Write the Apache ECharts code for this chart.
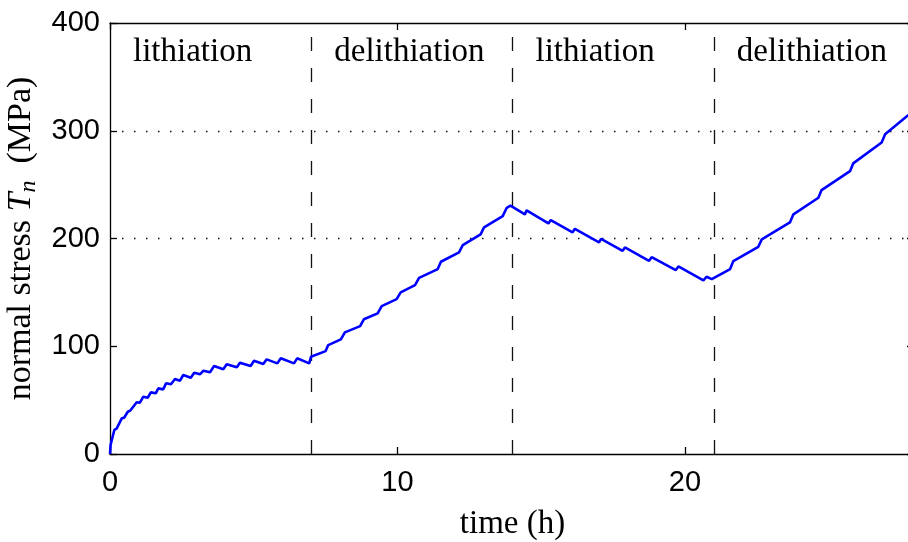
<!DOCTYPE html>
<html>
<head>
<meta charset="utf-8">
<script src="https://cdn.jsdelivr.net/npm/echarts@6/dist/echarts.min.js"></script>
<style>
  html, body { margin: 0; padding: 0; background: #fff; }
  #main { width: 908px; height: 542px; }
</style>
</head>
<body>
<div id="main"></div>
<script>
// time (h) and normal stress (MPa)
const timeH = [
  0, 0.02, 0.15, 0.23, 0.41, 0.49, 0.62, 0.70, 0.93, 1.04, 1.16, 1.31, 1.42, 1.59, 1.68, 1.85,
  1.95, 2.12, 2.26, 2.43, 2.55, 2.81, 2.93, 3.13, 3.25, 3.48, 3.62, 3.94, 4.06, 4.41, 4.52, 4.89,
  5.01, 5.33, 5.45, 5.82, 5.94, 6.40, 6.51, 6.93,
  6.99, 7.50, 7.59, 8.03, 8.17, 8.70, 8.83, 9.31, 9.45, 9.97, 10.11, 10.61, 10.75, 11.40, 11.51,
  12.14, 12.27, 12.89, 13.01, 13.66, 13.80, 13.93,
  14.43, 14.49, 15.25, 15.33, 16.09, 16.17, 17.01, 17.08, 17.83, 17.91, 18.75, 18.84, 19.68,
  19.77, 20.64, 20.75, 20.93,
  21.57, 21.68, 22.55, 22.67, 23.65, 23.77, 24.64, 24.75, 25.74, 25.85, 26.84, 26.96, 27.77
];
const stressMPa = [
  0, 8.3, 22.3, 23.5, 33.1, 33.7, 39.2, 40.2, 48.0, 47.6, 53.2, 52.2, 57.2, 56.3, 60.9, 60.0,
  65.6, 64.7, 69.6, 68.0, 73.3, 70.8, 75.4, 73.9, 77.3, 75.8, 81.6, 78.6, 83.2, 80.4, 84.7, 81.6,
  86.5, 83.5, 87.8, 84.1, 88.8, 84.1, 88.8, 84.1,
  90.3, 95.5, 101.1, 106.4, 112.9, 118.7, 125.0, 130.5, 137.3, 143.8, 150.0, 156.8, 163.5, 171.6, 178.4,
  187.1, 193.9, 203.8, 210.3, 220.8, 228.5, 230.5,
  222.4, 226.1, 214.0, 217.1, 205.7, 209.0, 196.4, 199.7, 188.6, 191.7, 179.3, 182.7, 170.7,
  174.1, 161.1, 164.5, 162.3,
  171.6, 179.0, 192.3, 199.2, 214.9, 222.4, 237.8, 244.9, 262.5, 269.7, 289.1, 296.8, 314.5
];

// phases
const phaseNames = ['lithiation', 'delithiation', 'lithiation', 'delithiation'];
const phaseStarts = [0, 7, 14, 21];
const phaseBounds = [7, 14, 21];
const dottedLevels = [200, 300];

const serif = '"Liberation Serif", "DejaVu Serif", serif';
const sans = '"Liberation Sans", Arial, sans-serif';

let myChart = echarts.init(document.getElementById('main'));

const lineData = timeH.map((t, i) => [t, stressMPa[i]]);
const labelData = phaseStarts.map((s, i) => ({ value: [s + 0.8, 373], name: phaseNames[i] }));

let option = {
  animation: false,
  backgroundColor: '#fff',
  grid: { left: 110, right: -7, top: 23, bottom: 88, outerBoundsMode: 'none', containLabel: false },
  xAxis: [
    {
      type: 'value', min: 0, max: 28, interval: 10, position: 'bottom',
      name: 'time (h)', nameLocation: 'middle', nameGap: 54,
      nameTextStyle: { fontFamily: serif, fontSize: 33, color: '#000' },
      axisLine: { show: true, onZero: false, lineStyle: { color: '#000', width: 1.3 } },
      axisTick: { inside: true, length: 7, lineStyle: { color: '#000', width: 1.3 } },
      axisLabel: { fontFamily: sans, fontSize: 29, color: '#000', margin: 14, showMaxLabel: false },
      splitLine: { show: false }
    },
    {
      type: 'value', min: 0, max: 28, interval: 10, position: 'top',
      axisLine: { show: true, onZero: false, lineStyle: { color: '#000', width: 1.3 } },
      axisTick: { inside: true, length: 7, lineStyle: { color: '#000', width: 1.3 } },
      axisLabel: { show: false },
      splitLine: { show: false }
    }
  ],
  yAxis: [
    {
      type: 'value', min: 0, max: 400, interval: 100, position: 'left',
      name: '{a|normal stress }{i|T}{s|n}{a|  (MPa)}',
      nameLocation: 'middle', nameGap: 62, nameRotate: 90,
      nameTextStyle: {
        color: '#000',
        rich: {
          a: { fontFamily: serif, fontSize: 34, color: '#000' },
          i: { fontFamily: serif, fontSize: 34, fontStyle: 'italic', color: '#000' },
          s: { fontFamily: serif, fontSize: 24, fontStyle: 'italic', color: '#000', padding: [16, 0, 0, 0] }
        }
      },
      axisLine: { show: true, onZero: false, lineStyle: { color: '#000', width: 1.3 } },
      axisTick: { inside: true, length: 7, lineStyle: { color: '#000', width: 1.3 } },
      axisLabel: { fontFamily: sans, fontSize: 29, color: '#000', margin: 10 },
      splitLine: { show: false }
    },
    {
      type: 'value', min: 0, max: 400, interval: 100, position: 'right',
      axisLine: { show: true, onZero: false, lineStyle: { color: '#000', width: 1.3 } },
      axisTick: { inside: true, length: 8, lineStyle: { color: '#000', width: 1.3 } },
      axisLabel: { show: false },
      splitLine: { show: false }
    }
  ],
  series: [
    {
      type: 'line',
      data: lineData,
      showSymbol: false,
      lineStyle: { color: '#0000ff', width: 2.6 },
      z: 5,
      markLine: {
        silent: true, symbol: 'none', label: { show: false },
        data: phaseBounds.map(x => ({ xAxis: x, lineStyle: { color: '#111', width: 1.3, type: [14, 17] } }))
          .concat(dottedLevels.map(y => ({ yAxis: y, lineStyle: { color: '#111', width: 1.3, type: [1.5, 10.5] } })))
      }
    },
    {
      type: 'scatter',
      data: labelData,
      symbolSize: 0,
      silent: true,
      itemStyle: { opacity: 1 },
      label: {
        show: true, position: 'right', distance: 0, opacity: 1,
        formatter: p => p.name,
        fontFamily: serif, fontSize: 33, color: '#000'
      }
    }
  ]
};

myChart.setOption(option);
</script>
</body>
</html>
